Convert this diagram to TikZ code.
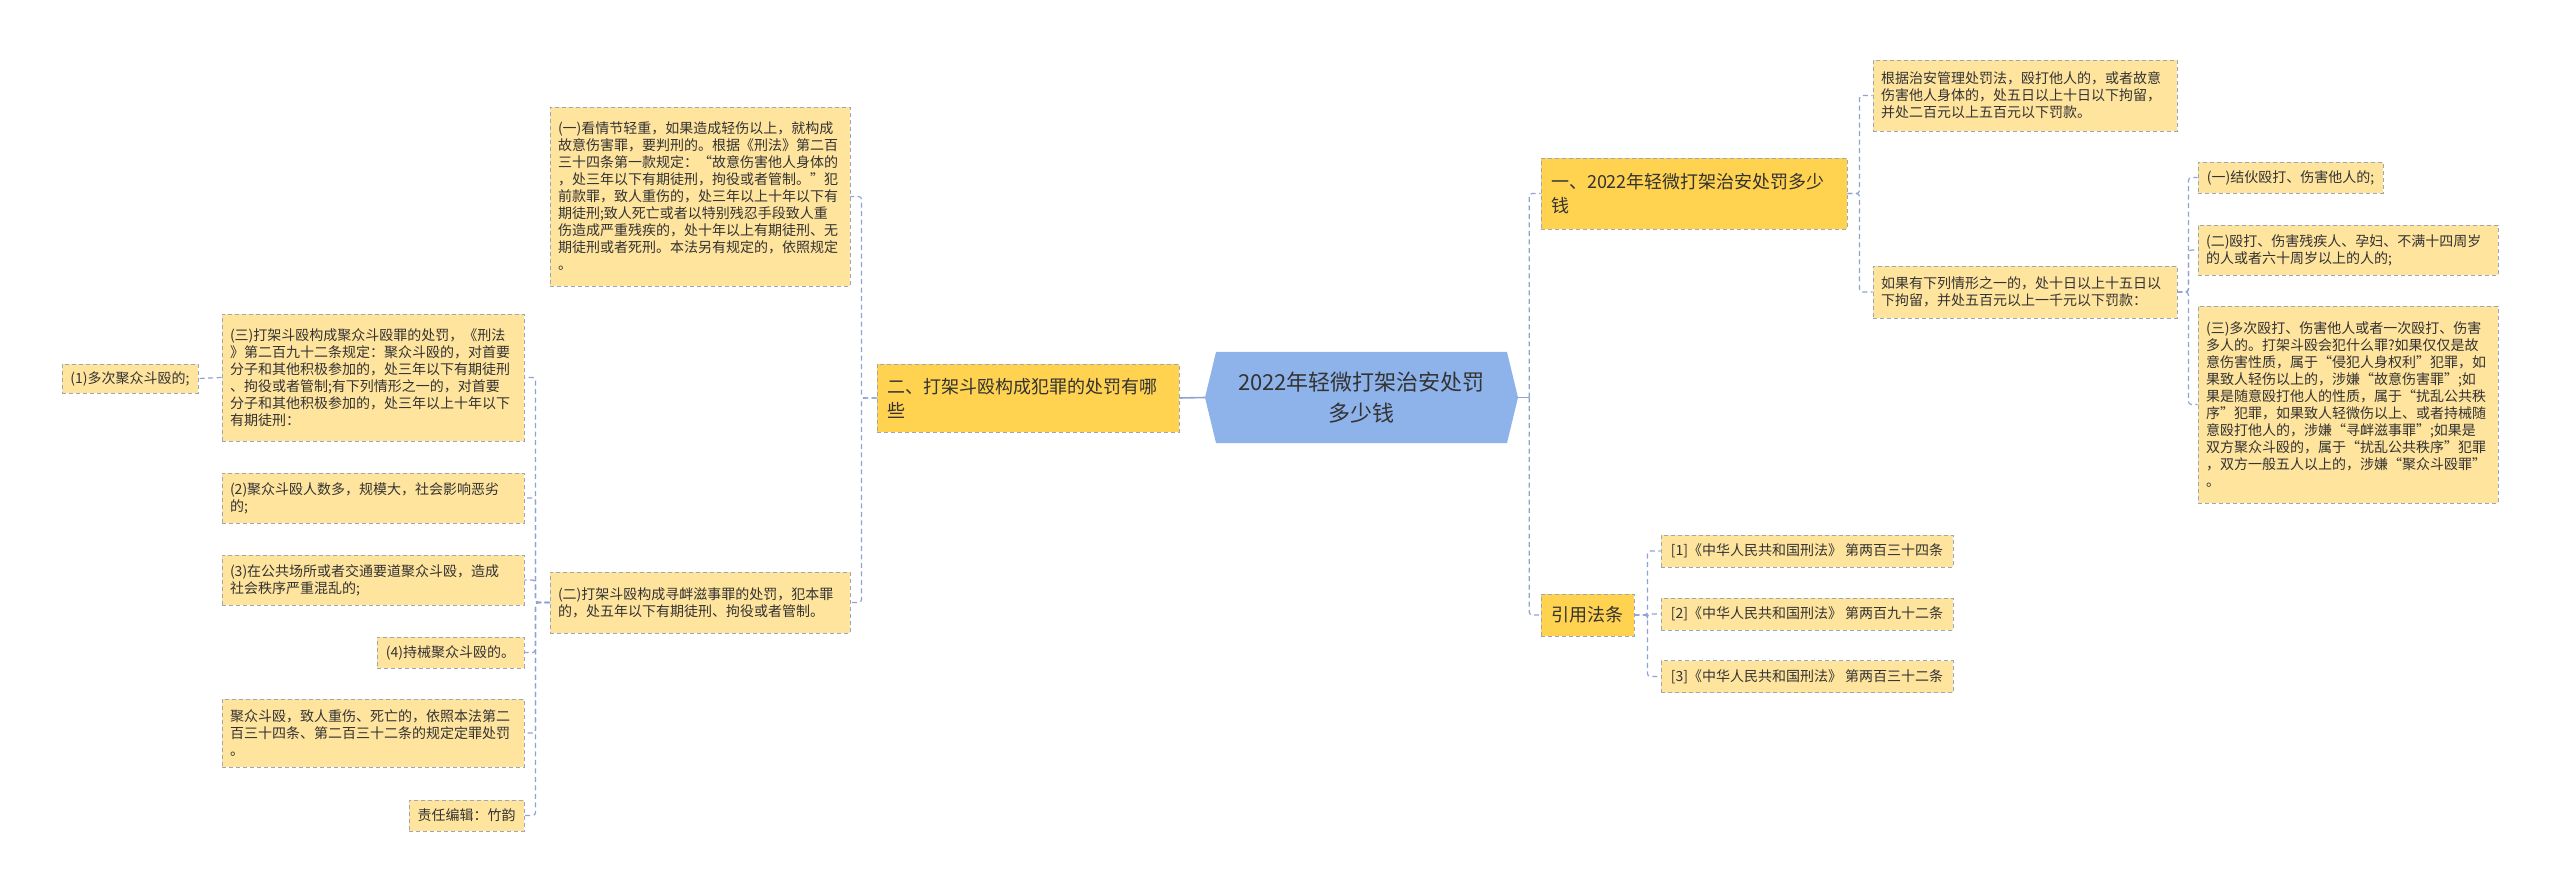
\documentclass[tikz,border=0pt]{standalone}
\usepackage{fontspec}
\newfontfamily\cjk{Noto Sans CJK SC}
\definecolor{leaffill}{HTML}{FFE49E}
\definecolor{branchfill}{HTML}{FFD250}
\definecolor{rootfill}{HTML}{8EB3EA}
\definecolor{boxline}{HTML}{9EA7B8}
\definecolor{connline}{HTML}{8FA3D3}
\definecolor{txt}{HTML}{333333}
\begin{document}
\begin{tikzpicture}[x=1pt,y=-1pt,
  base/.style={draw=boxline, line width=0.9pt, dash pattern=on 4pt off 3pt, align=left, inner ysep=0pt, text=txt},
  leaf/.style={base, inner xsep=8pt, fill=leaffill, font=\cjk\fontsize{14}{17}\selectfont},
  branch/.style={base, inner xsep=10pt, fill=branchfill, font=\cjk\fontsize{18}{24}\selectfont},
  conn/.style={draw=connline, line width=1.2pt, dash pattern=on 5pt off 3.5pt, rounded corners=3pt},
  solidconn/.style={draw=connline, line width=1.6pt}
]
\useasboundingbox (0,0) rectangle (2560,893);

% root
\node[minimum width=313pt, minimum height=91pt, inner sep=0pt] (root) at (1361.5,397.5) {};
\fill[rootfill] (1205,397.5) -- (1216,352) -- (1507,352) -- (1518,397.5) -- (1507,443) -- (1216,443) -- cycle;
\node[align=center, text=txt, font=\cjk\fontsize{22}{31}\selectfont] (roottext) at (1361.5,397.5) {2022年轻微打架治安处罚\\多少钱};

% branches
\node[branch, text width=282pt, minimum height=68pt] (b2) at (1028,398) {二、打架斗殴构成犯罪的处罚有哪\\些};
\node[branch, text width=286pt, minimum height=71pt] (b1) at (1694,193.5) {一、2022年轻微打架治安处罚多少\\钱};
\node[branch, minimum width=93pt, minimum height=42pt] (b3) at (1587.5,615) {引用法条};

% left leaves
\node[leaf, text width=284pt, minimum height=179pt] (a1) at (700,196.5) {(一)看情节轻重，如果造成轻伤以上，就构成\\故意伤害罪，要判刑的。根据《刑法》第二百\\三十四条第一款规定：“故意伤害他人身体的\\，处三年以下有期徒刑，拘役或者管制。”犯\\前款罪，致人重伤的，处三年以上十年以下有\\期徒刑;致人死亡或者以特别残忍手段致人重\\伤造成严重残疾的，处十年以上有期徒刑、无\\期徒刑或者死刑。本法另有规定的，依照规定\\。};
\node[leaf, text width=284pt, minimum height=61pt] (a2) at (700,602.5) {(二)打架斗殴构成寻衅滋事罪的处罚，犯本罪\\的，处五年以下有期徒刑、拘役或者管制。};

\node[leaf, text width=286pt, minimum height=127pt] (l3) at (373,377.5) {(三)打架斗殴构成聚众斗殴罪的处罚，《刑法\\》第二百九十二条规定：聚众斗殴的，对首要\\分子和其他积极参加的，处三年以下有期徒刑\\、拘役或者管制;有下列情形之一的，对首要\\分子和其他积极参加的，处三年以上十年以下\\有期徒刑：};
\node[leaf, minimum width=136pt, minimum height=29pt] (l1) at (130,378.5) {(1)多次聚众斗殴的;};
\node[leaf, text width=286pt, minimum height=50pt] (l2) at (373,498) {(2)聚众斗殴人数多，规模大，社会影响恶劣\\的;};
\node[leaf, text width=286pt, minimum height=50pt] (l3b) at (373,580) {(3)在公共场所或者交通要道聚众斗殴，造成\\社会秩序严重混乱的;};
\node[leaf, minimum width=147pt, minimum height=31pt] (l4) at (450.5,652.5) {(4)持械聚众斗殴的。};
\node[leaf, text width=286pt, minimum height=68pt] (l5) at (373,733) {聚众斗殴，致人重伤、死亡的，依照本法第二\\百三十四条、第二百三十二条的规定定罪处罚\\。};
\node[leaf, minimum width=115pt, minimum height=31pt] (l6) at (466.5,815.5) {责任编辑：竹韵};

% right leaves
\node[leaf, text width=288pt, minimum height=71pt] (r1) at (2025,95.5) {根据治安管理处罚法，殴打他人的，或者故意\\伤害他人身体的，处五日以上十日以下拘留，\\并处二百元以上五百元以下罚款。};
\node[leaf, text width=288pt, minimum height=52pt] (r2) at (2025,292) {如果有下列情形之一的，处十日以上十五日以\\下拘留，并处五百元以上一千元以下罚款：};
\node[leaf, minimum width=185pt, minimum height=31pt] (s1) at (2290.5,177.5) {(一)结伙殴打、伤害他人的;};
\node[leaf, text width=284pt, minimum height=50pt] (s2) at (2348,250) {(二)殴打、伤害残疾人、孕妇、不满十四周岁\\的人或者六十周岁以上的人的;};
\node[leaf, text width=284pt, minimum height=197pt] (s3) at (2348,404.5) {(三)多次殴打、伤害他人或者一次殴打、伤害\\多人的。打架斗殴会犯什么罪?如果仅仅是故\\意伤害性质，属于“侵犯人身权利”犯罪，如\\果致人轻伤以上的，涉嫌“故意伤害罪”;如\\果是随意殴打他人的性质，属于“扰乱公共秩\\序”犯罪，如果致人轻微伤以上、或者持械随\\意殴打他人的，涉嫌“寻衅滋事罪”;如果是\\双方聚众斗殴的，属于“扰乱公共秩序”犯罪\\，双方一般五人以上的，涉嫌“聚众斗殴罪”\\。};
\node[leaf, minimum width=292pt, minimum height=32pt] (c1) at (1807,551) {[1]《中华人民共和国刑法》 第两百三十四条};
\node[leaf, minimum width=292pt, minimum height=32pt] (c2) at (1807,614) {[2]《中华人民共和国刑法》 第两百九十二条};
\node[leaf, minimum width=292pt, minimum height=32pt] (c3) at (1807,676.5) {[3]《中华人民共和国刑法》 第两百三十二条};

% connectors
\draw[solidconn] (root.west) -- (b2.east);
\foreach \c in {a1,a2} \draw[conn] (b2.west) -- ++(-15,0) |- (\c.east);
\foreach \c in {l3,l2,l3b,l4,l5,l6} \draw[conn] (a2.west) -- ++(-14,0) |- (\c.east);
\draw[conn] (l3.west) -- (l1.east);

\draw[solidconn] (root.east) -- ++(11,0) coordinate (rj);
\foreach \c in {b1,b3} \draw[conn] (rj) |- (\c.west);
\foreach \c in {r1,r2} \draw[conn] (b1.east) -- ++(12,0) |- (\c.west);
\foreach \c in {s1,s2,s3} \draw[conn] (r2.east) -- ++(11,0) |- (\c.west);
\foreach \c in {c1,c2,c3} \draw[conn] (b3.east) -- ++(13,0) |- (\c.west);
\end{tikzpicture}
\end{document}
